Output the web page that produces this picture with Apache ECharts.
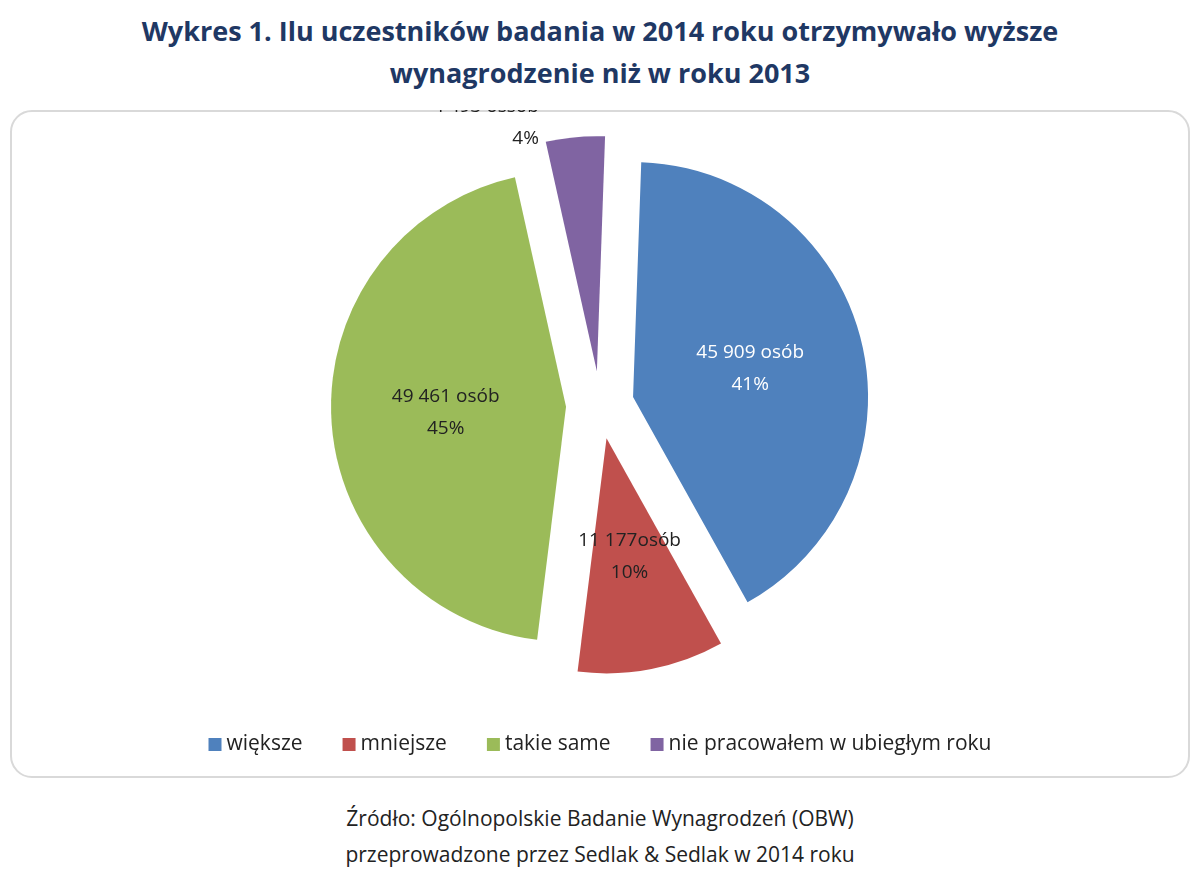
<!DOCTYPE html>
<html lang="pl">
<head>
<meta charset="UTF-8">
<title>Wykres 1</title>
<script src="https://cdn.jsdelivr.net/npm/echarts@6/dist/echarts.min.js"></script>
<style>
  body { margin: 0; background: #fff; font-family: "Open Sans", sans-serif; }
  #title { position: absolute; left: 0; top: 10px; width: 1200px; text-align: center;
           color: #1f3864; font-weight: bold; font-size: 27px; line-height: 42px; }
  #box { position: absolute; left: 10px; top: 110px; width: 1176px; height: 664px;
         border: 2px solid #d9d9d9; border-radius: 22px; }
  #chart { position: absolute; left: 0; top: 110px; width: 1200px; height: 670px; }
  #src { position: absolute; left: 0; top: 800px; width: 1200px; text-align: center;
         color: #222; font-size: 21px; line-height: 36px; }
</style>
</head>
<body>
<div id="title">Wykres 1. Ilu uczestników badania w 2014 roku otrzymywało wyższe<br>wynagrodzenie niż w roku 2013</div>
<div id="box"></div>
<div id="chart"></div>
<div id="src">Źródło: Ogólnopolskie Badanie Wynagrodzeń (OBW)<br>przeprowadzone przez Sedlak &amp; Sedlak w 2014 roku</div>
<script>
const categories = ['większe', 'mniejsze', 'takie same', 'nie pracowałem w ubiegłym roku'];
const values = [45909, 11177, 49461, 4493];
const labels = ['45 909 osób\n41%', '11 177osób\n10%', '49 461 osób\n45%', '4 493 ossób\n4%'];
const colors = ['#4f81bd', '#c0504d', '#9bbb59', '#8064a2'];

const chart = echarts.init(document.getElementById('chart'));
chart.setOption({
  animation: false,
  color: colors,
  legend: {
    bottom: 20, icon: 'rect', itemWidth: 13, itemHeight: 13, itemGap: 40,
    textStyle: { fontSize: 21, color: '#222', fontFamily: 'Open Sans' },
    data: categories
  },
  series: [{
    type: 'pie',
    center: [600, 295],
    radius: [0, 235],
    startAngle: 88,
    selectedMode: 'multiple',
    selectedOffset: 34,
    label: { position: 'inside', fontSize: 19, lineHeight: 32, color: '#222', fontFamily: 'Open Sans' },
    data: categories.map((c, i) => ({
      name: c, value: values[i], selected: true,
      label: i === 3
        ? { position: 'outside', distance: 8, formatter: labels[i], color: '#222' }
        : { formatter: labels[i], color: i === 0 ? '#fff' : '#222' },
      labelLine: { show: false }
    }))
  }]
});
</script>
</body>
</html>
